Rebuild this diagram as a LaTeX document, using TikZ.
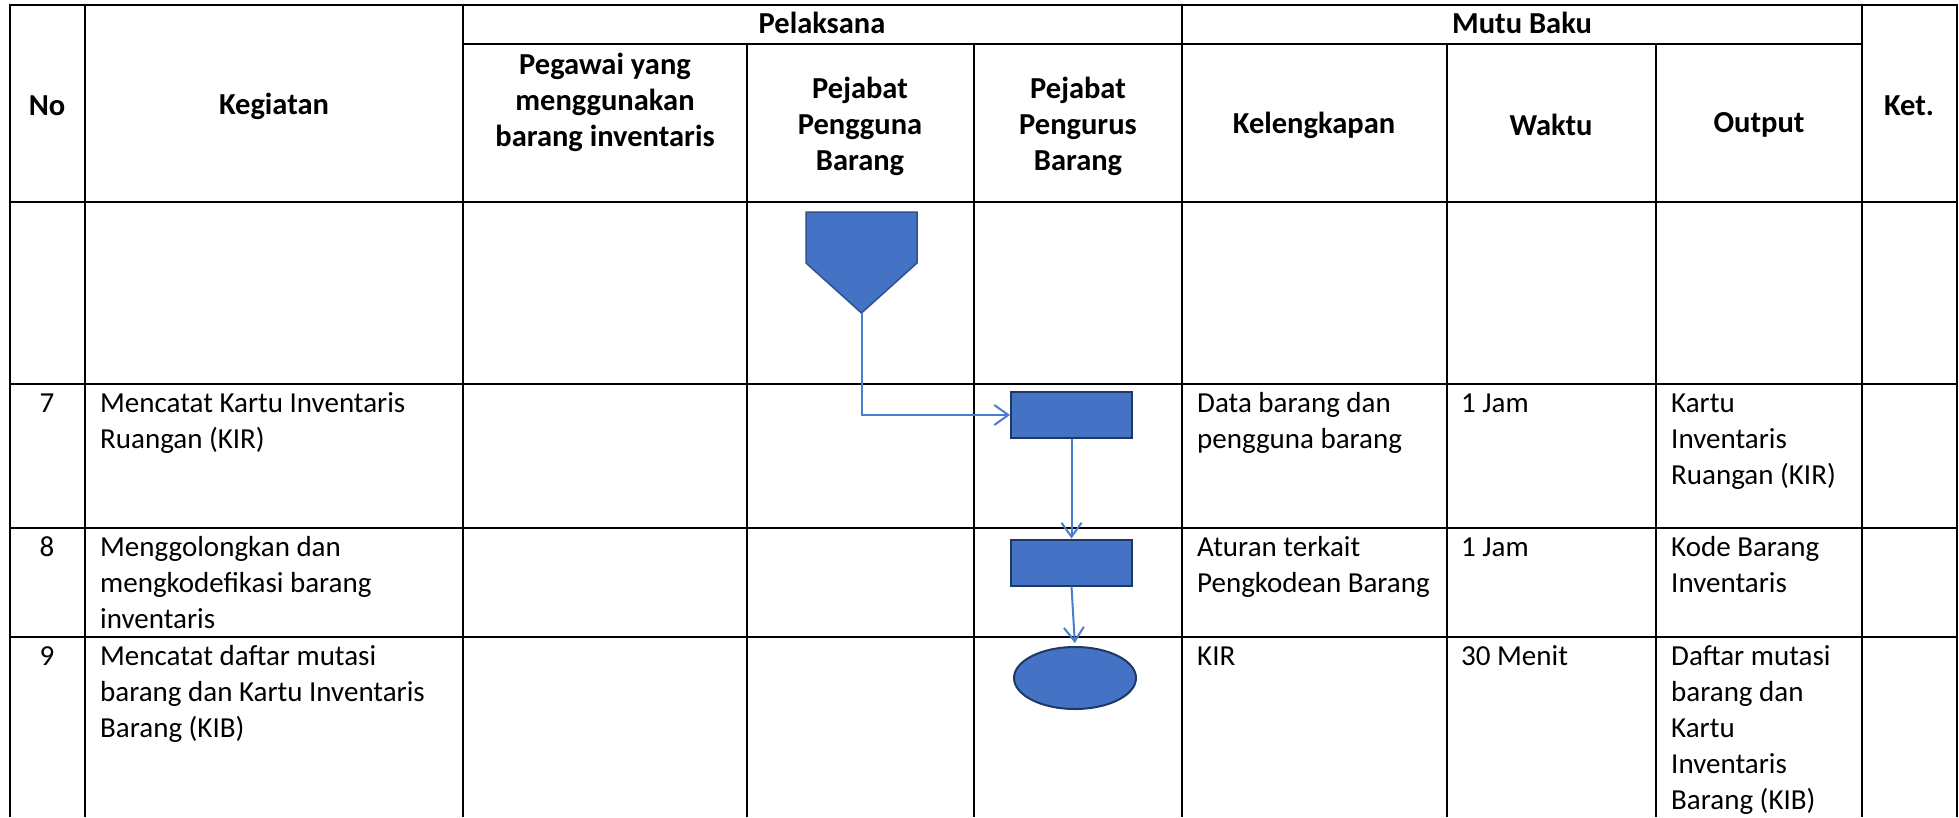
\documentclass[tikz,border=0pt]{standalone}
\usepackage{fontspec}
\setmainfont{Carlito}
\usetikzlibrary{arrows.meta,shapes.geometric}
\definecolor{fillblue}{HTML}{4472C4}
\definecolor{edgeblue}{HTML}{2F528F}
\definecolor{navy}{HTML}{1F3864}
\definecolor{linkblue}{HTML}{4A7CD0}
\begin{document}
\begin{tikzpicture}[x=1pt,y=-1pt,
  grid/.style={line width=2.6pt,black},
  hdr/.style={font=\fontsize{30.5}{36}\selectfont\bfseries,align=center,inner sep=0pt},
  body/.style={font=\fontsize{29}{36}\selectfont,align=left,anchor=base west,inner sep=0pt},
  num/.style={font=\fontsize{29}{36}\selectfont,anchor=base,inner sep=0pt},
  procbox/.style={draw=navy,line width=2pt,fill=fillblue,minimum width=121pt,minimum height=46pt,inner sep=0pt},
  termbox/.style={ellipse,draw=navy,line width=2pt,fill=fillblue,minimum width=122pt,minimum height=62pt,inner sep=0pt},
  link/.style={draw=linkblue,line width=2pt,-{Straight Barb[length=14pt,width=20pt]}}]
\useasboundingbox (0,0) rectangle (1959,817);
% grid
\draw[grid] (10,817) -- (10,5) -- (1957,5) -- (1957,817);
\draw[grid] (463,44) -- (1862,44);
\draw[grid] (10,202) -- (1957,202);
\draw[grid] (10,384) -- (1957,384);
\draw[grid] (10,528) -- (1957,528);
\draw[grid] (10,637) -- (1957,637);
\foreach \x in {85,463,1182,1862} \draw[grid] (\x,5) -- (\x,817);
\foreach \x in {747,974,1447,1656} \draw[grid] (\x,44) -- (\x,817);
% header
\node[hdr] (hNo) at (47,106) {No};
\node[hdr] (hKeg) at (274,106) {Kegiatan};
\node[hdr] (hPel) at (822,23) {Pelaksana};
\node[hdr] (hMutu) at (1522,23) {Mutu Baku};
\node[hdr] (hPeg) at (605,102) {Pegawai yang\\menggunakan\\barang inventaris};
\node[hdr] (hPPB) at (860,126) {Pejabat\\Pengguna\\Barang};
\node[hdr] (hPRB) at (1078,126) {Pejabat\\Pengurus\\Barang};
\node[hdr] (hKel) at (1314,125) {Kelengkapan};
\node[hdr] (hWak) at (1551,125) {Waktu};
\node[hdr] (hOut) at (1759,125) {Output};
\node[hdr] (hKet) at (1909,106) {Ket.};
% row 7 (nodes anchored at the baseline of their last line)
\node[num] (n7) at (47,412) {7};
\node[body] (k7) at (100,448) {Mencatat Kartu Inventaris\\Ruangan (KIR)};
\node[body] (l7) at (1197,448) {Data barang dan\\pengguna barang};
\node[body] (w7) at (1461,412) {1 Jam};
\node[body] (o7) at (1671,484) {Kartu\\Inventaris\\Ruangan (KIR)};
% row 8
\node[num] (n8) at (47,556) {8};
\node[body] (k8) at (100,628) {Menggolongkan dan\\mengkodefikasi barang\\inventaris};
\node[body] (l8) at (1197,592) {Aturan terkait\\Pengkodean Barang};
\node[body] (w8) at (1461,556) {1 Jam};
\node[body] (o8) at (1671,592) {Kode Barang\\Inventaris};
% row 9
\node[num] (n9) at (47,665) {9};
\node[body] (k9) at (100,737) {Mencatat daftar mutasi\\barang dan Kartu Inventaris\\Barang (KIB)};
\node[body] (l9) at (1197,665) {KIR};
\node[body] (w9) at (1461,665) {30 Menit};
\node[body] (o9) at (1671,809) {Daftar mutasi\\barang dan\\Kartu\\Inventaris\\Barang (KIB)};
% flow shapes
\draw[draw=edgeblue,line width=1.5pt,fill=fillblue] (806,212) -- (917,212) -- (917,263) -- (861.5,313) -- (806,263) -- cycle;
\coordinate (tip) at (861.5,313);
\node[procbox] (r1) at (1071.5,415) {};
\node[procbox] (r2) at (1071.5,562.5) {};
\node[termbox] (e1) at (1075,678) {};
\draw[link] (tip) |- (r1.west);
\draw[link] (r1.south) -- (r2.north);
\draw[link,shorten >=3pt] (r2.south) -- (e1.north);
\end{tikzpicture}
\end{document}
